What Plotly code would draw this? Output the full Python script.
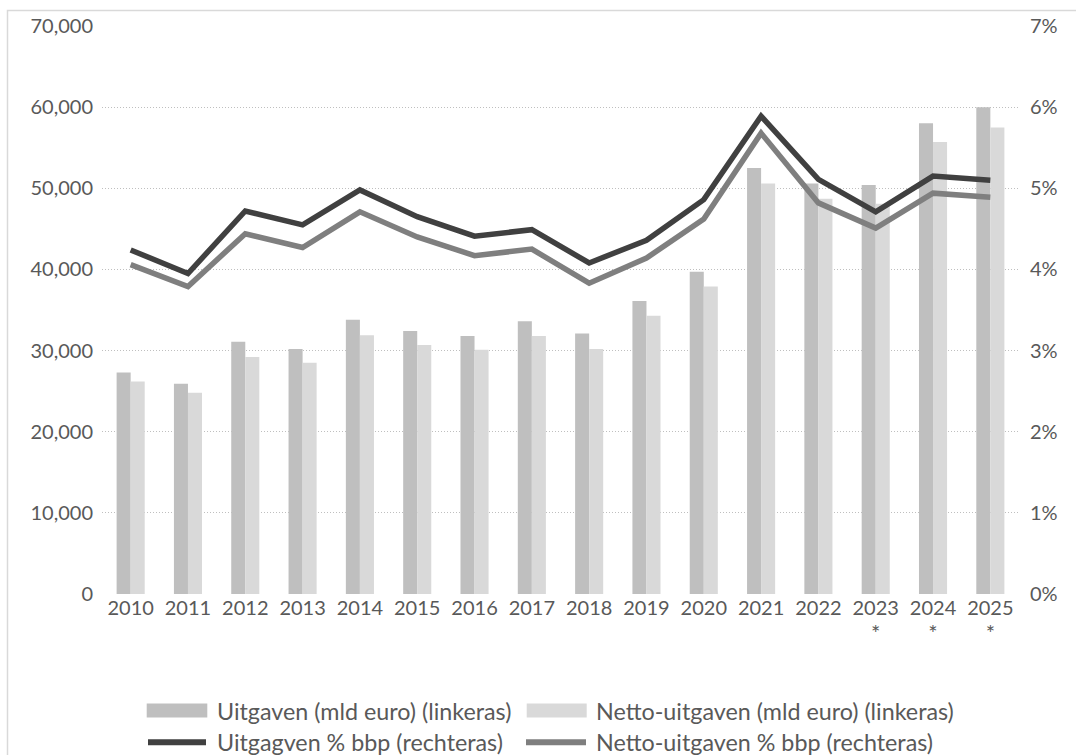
import plotly.graph_objects as go

years = ["2010", "2011", "2012", "2013", "2014", "2015", "2016", "2017",
         "2018", "2019", "2020", "2021", "2022", "2023", "2024", "2025"]
year_labels = [y if y not in ("2023", "2024", "2025")
               else y + "<br><span style='font-size:22px'>*</span>" for y in years]

uitgaven = [27300, 25900, 31100, 30200, 33800, 32400, 31800, 33600,
            32100, 36100, 39700, 52500, 50600, 50400, 58000, 60000]
netto_uitgaven = [26200, 24800, 29200, 28500, 31900, 30700, 30100, 31800,
                  30200, 34300, 37900, 50600, 48700, 48100, 55700, 57500]
uitgaven_pct = [4.24, 3.95, 4.72, 4.55, 4.98, 4.65, 4.41, 4.49,
                4.08, 4.36, 4.86, 5.89, 5.11, 4.71, 5.15, 5.10]
netto_pct = [4.06, 3.79, 4.44, 4.27, 4.71, 4.40, 4.17, 4.25,
             3.83, 4.14, 4.62, 5.68, 4.82, 4.51, 4.94, 4.89]

names = ["Uitgaven (mld euro) (linkeras)", "Netto-uitgaven (mld euro) (linkeras)",
         "Uitgagven % bbp (rechteras)", "Netto-uitgaven % bbp (rechteras)"]
colors = ["#bfbfbf", "#d9d9d9", "#404040", "#7f7f7f"]

FONT = "Lato"
TXT = "#595959"
W, H = 1076, 755
ML, MR, MT, MB = 102, 57, 26, 161
PW, PH = W - ML - MR, H - MT - MB


def xp(px):
    return (px - ML) / PW


def yp(py):
    return (H - MB - py) / PH


fig = go.Figure()
fig.add_trace(go.Bar(x=years, y=uitgaven, name=names[0], marker_color=colors[0],
                     marker_line_width=0, yaxis="y"))
fig.add_trace(go.Bar(x=years, y=netto_uitgaven, name=names[1], marker_color=colors[1],
                     marker_line_width=0, yaxis="y"))
fig.add_trace(go.Scatter(x=years, y=[v / 100 for v in uitgaven_pct], name=names[2],
                         mode="lines", line=dict(color=colors[2], width=5.5), yaxis="y2"))
fig.add_trace(go.Scatter(x=years, y=[v / 100 for v in netto_pct], name=names[3],
                         mode="lines", line=dict(color=colors[3], width=5.5), yaxis="y2"))

shapes = []
annotations = []
# chart border
shapes.append(dict(type="rect", xref="paper", yref="paper",
                   x0=xp(7.5), x1=xp(1085), y0=yp(765), y1=yp(10.5),
                   line=dict(color="#d9d9d9", width=1.5), fillcolor="rgba(0,0,0,0)",
                   layer="below"))

# manual legend
legend_items = [
    (names[0], colors[0], "bar", 146.7, 207.3, 215, 710.5),
    (names[1], colors[1], "bar", 526.7, 586.7, 594, 710.5),
    (names[2], colors[2], "line", 148, 206, 215, 742.3),
    (names[3], colors[3], "line", 526, 586, 594, 742.3),
]
for name, col, kind, sx0, sx1, tx, cy in legend_items:
    if kind == "bar":
        shapes.append(dict(type="rect", xref="paper", yref="paper",
                           x0=xp(sx0), x1=xp(sx1), y0=yp(cy + 7), y1=yp(cy - 7),
                           fillcolor=col, line=dict(width=0)))
    else:
        shapes.append(dict(type="line", xref="paper", yref="paper",
                           x0=xp(sx0), x1=xp(sx1), y0=yp(cy), y1=yp(cy),
                           line=dict(color=col, width=6)))
    annotations.append(dict(text=name, xref="paper", yref="paper", x=xp(tx), y=yp(cy),
                            xanchor="left", yanchor="middle", showarrow=False,
                            font=dict(family=FONT, size=23.3, color=TXT)))

fig.update_layout(
    width=W, height=H,
    margin=dict(l=ML, r=MR, t=MT, b=MB),
    paper_bgcolor="white", plot_bgcolor="white",
    barmode="group", bargap=0.51, bargroupgap=0,
    showlegend=False,
    font=dict(family=FONT, size=20, color=TXT),
    xaxis=dict(tickmode="array", tickvals=years, ticktext=year_labels,
               showgrid=False, showline=False, zeroline=False, ticks="",
               tickfont=dict(family=FONT, size=20, color=TXT)),
    yaxis=dict(range=[0, 70000], dtick=10000, tickformat=",", showgrid=True,
               gridcolor="#bfbfbf", griddash="1px,2px", gridwidth=1, zeroline=False,
               showline=False, ticks="", ticklabelstandoff=8,
               tickfont=dict(family=FONT, size=20, color=TXT)),
    yaxis2=dict(range=[0, 0.07], dtick=0.01, tickformat=".0%", overlaying="y",
                side="right", showgrid=False, zeroline=False, showline=False,
                ticks="", ticklabelstandoff=10,
                tickfont=dict(family=FONT, size=20, color=TXT)),
    shapes=shapes,
    annotations=annotations,
)

fig.write_html("out.html", config={"displayModeBar": False},
               post_script="document.body.style.margin='0';")
